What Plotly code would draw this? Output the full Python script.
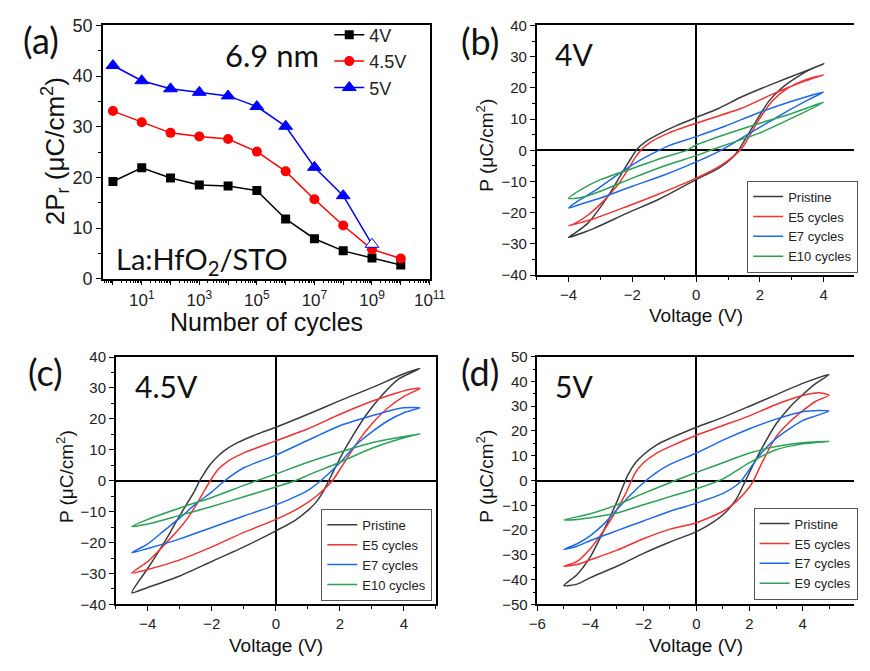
import plotly.graph_objects as go

# ---------------- Panel (a) data ----------------
cycles = [1, 10, 100, 1000, 10000, 100000, 1000000, 10000000, 100000000, 1000000000, 10000000000]
pr_4v = [19.2, 21.9, 19.9, 18.5, 18.3, 17.4, 11.8, 7.9, 5.5, 4.1, 2.7]
pr_45v = [33.1, 30.9, 28.8, 28.1, 27.6, 25.1, 21.2, 15.7, 10.5, 5.8, 4.0]
pr_5v = [42.1, 39.1, 37.5, 36.8, 36.1, 34.0, 30.1, 22.0, 16.4, 6.8]
pr_5v_open = [False] * 9 + [True]
a_xtick_exp = list(range(0, 12))

# ---------------- Panel (b) 4V loops (upper branch then lower branch) ----------------
b_pristine_v = [4, 3.4, 2.4, 1.4, 0.7, 0, -0.6, -1.1, -1.55, -1.85, -2.05, -2.3, -2.6, -3.0, -3.4, -3.8, -4,
                -3.2, -2.2, -1.15, 0, 0.7, 1.1, 1.35, 1.6, 1.9, 2.3, 2.7, 3.2, 3.6, 4]
b_pristine_p = [27.7, 25.3, 21.3, 17.0, 13.4, 10.5, 8.0, 5.6, 3.0, 0.4, -2.7, -6.8, -12.0, -18.2, -23.4, -26.5, -27.9,
                -25.0, -20.3, -15.6, -9.4, -5.8, -2.7, 0.4, 4.6, 9.7, 16.0, 20.1, 23.7, 26.0, 27.7]
b_e5_v = [4, 3.4, 2.4, 1.4, 0, -0.85, -1.45, -1.7, -1.9, -2.15, -2.45, -2.9, -3.4, -3.8, -4,
          -3.2, -2.15, -1.15, 0, 0.7, 1.2, 1.45, 1.7, 2.0, 2.4, 2.9, 3.4, 4]
b_e5_p = [24.2, 22.2, 18.0, 13.4, 8.7, 5.6, 2.5, 0.4, -2.2, -6.3, -11.0, -16.2, -20.8, -23.4, -24.2,
          -21.9, -17.9, -13.9, -8.9, -5.3, -1.7, 0.9, 5.1, 10.3, 16.0, 20.1, 22.5, 24.2]
b_e7_v = [4, 2.9, 1.9, 0.9, 0, -0.85, -1.25, -1.85, -2.55, -3.2, -3.7, -4,
          -3.6, -3.0, -2.0, -1.0, 0, 0.7, 1.2, 1.7, 2.3, 2.9, 3.5, 4]
b_e7_p = [18.7, 15.4, 11.8, 7.7, 4.4, 1.5, -0.4, -3.7, -8.4, -13.1, -16.2, -18.5,
          -17.2, -15.3, -11.5, -7.9, -3.7, -0.4, 2.5, 5.6, 9.2, 12.8, 16.1, 18.7]
b_e10_v = [4, 3, 2, 1, 0, -0.3, -1, -2, -3, -3.6, -4,
           -3.6, -3, -2, -1, 0, 0.45, 1, 2, 3, 4]
b_e10_p = [15.4, 11.8, 8.7, 5.4, 1.7, 0.0, -2.2, -5.8, -9.4, -12.5, -15.4,
           -15.1, -13.1, -8.9, -5.0, -1.7, 0.0, 2.0, 5.6, 10.3, 15.4]

# ---------------- Panel (c) 4.5V loops ----------------
c_pristine_v = [4.5, 4, 3, 2, 1, 0, -0.6, -1.2, -1.6, -1.9, -2.1, -2.25, -2.38, -2.55, -2.8, -3.1, -3.4, -3.7, -4.0, -4.25, -4.5,
                -4, -3, -2, -1, 0, 0.6, 1.0, 1.25, 1.45, 1.65, 1.85, 2.1, 2.4, 2.8, 3.3, 3.85, 4.5]
c_pristine_p = [36.3, 34.6, 30.1, 25.9, 21.5, 17.3, 15.0, 12.3, 9.8, 7.0, 4.6, 2.2, 0.0, -3.5, -7.8, -13.0, -18.5, -23.5, -28.3, -32.0, -36.2,
                -34.5, -30.8, -26.1, -21.4, -16.2, -12.8, -9.6, -7.0, -4.0, 0.0, 4.2, 9.2, 14.5, 21.0, 27.5, 33.0, 36.3]
c_e5_v = [4.5, 4.2, 3.5, 3, 2, 1, 0, -1, -1.5, -1.8, -2.05, -2.25, -2.5, -2.75, -3, -3.5, -4, -4.5,
          -4, -3, -2, -1, 0, 0.6, 1.0, 1.3, 1.55, 1.8, 2.05, 2.3, 2.6, 3, 3.5, 4, 4.5]
c_e5_p = [29.9, 29.6, 27.5, 25.7, 21.5, 16.8, 12.9, 9.0, 6.3, 3.7, 0.0, -3.5, -8.0, -12.0, -15.3, -20.9, -26.1, -29.8,
          -28.7, -25.6, -21.4, -16.7, -12.5, -9.5, -7.0, -4.7, -2.3, 0.5, 4.5, 8.5, 13.2, 18.4, 23.6, 27.3, 29.9]
c_e7_v = [4.5, 4, 3.5, 3, 2, 1, 0, -1, -1.6, -2, -2.5, -3, -3.5, -4, -4.5,
          -4, -3, -2, -1, 0, 1, 1.4, 2, 2.5, 3, 3.5, 4, 4.5]
c_e7_p = [23.6, 23.6, 22.5, 21.0, 17.8, 13.1, 8.3, 4.2, 0.0, -3.6, -7.5, -12.0, -16.2, -20.4, -23.3,
          -21.9, -18.8, -15.1, -11.4, -7.8, -3.1, 0.0, 5.8, 11.6, 15.8, 19.4, 22.0, 23.6]
c_e10_v = [4.5, 3, 2, 1, 0, -0.6, -1, -2, -3, -4, -4.5,
           -4, -3, -2, -1, 0, 0.6, 1, 2, 3, 4, 4.5]
c_e10_p = [15.2, 12.3, 9.3, 6.0, 2.2, 0.0, -1.5, -5.4, -8.8, -12.5, -14.8,
           -14.0, -11.2, -8.3, -5.2, -2.0, 0.0, 1.8, 6.0, 10.5, 13.9, 15.2]

# ---------------- Panel (d) 5V loops ----------------
d_pristine_v = [5, 4, 3, 2, 1, 0, -1, -1.5, -2, -2.3, -2.6, -3, -3.5, -4, -4.5, -5,
                -4.5, -4, -3, -2, -1, 0, 0.6, 1.1, 1.5, 1.85, 2.1, 2.5, 3, 3.5, 4, 4.5, 5]
d_pristine_p = [42.8, 39.2, 34.6, 30.0, 25.5, 21.5, 17.0, 14.4, 10.4, 7.2, 2.0, -8.5, -20.2, -30.7, -37.9, -42.4,
                -41.8, -39.2, -34.6, -29.4, -24.8, -20.6, -17.0, -12.8, -7.5, 0.0, 5.5, 13.7, 22.8, 29.4, 34.6, 39.2, 42.8]
d_e5_v = [5, 4.6, 4, 3, 2, 1, 0, -1, -1.5, -2, -2.3, -2.45, -2.7, -3, -3.5, -4, -4.5, -5,
          -4.5, -4, -3, -2, -1, 0, 1, 1.5, 2, 2.15, 2.5, 3, 3.5, 4, 4.5, 5]
d_e5_p = [34.5, 35.4, 34.3, 30.7, 26.1, 22.2, 18.3, 13.7, 11.1, 7.2, 3.3, 0.0, -5.9, -11.7, -20.2, -27.4, -32.6, -34.6,
          -33.9, -32.0, -28.1, -23.5, -19.6, -17.0, -12.4, -8.5, -2.6, 0.0, 7.8, 17.6, 23.5, 28.1, 32.0, 34.5]
d_e7_v = [5, 4.6, 4, 3, 2, 1, 0, -1, -1.5, -1.9, -2.5, -3, -3.5, -4, -4.5, -5,
          -4.5, -4, -3, -2, -1, 0, 1, 1.5, 1.7, 2, 2.5, 3, 3.5, 4, 4.5, 5]
d_e7_p = [28.1, 28.3, 27.8, 24.8, 20.9, 16.3, 11.1, 6.5, 3.3, 0.0, -5.9, -11.7, -17.6, -22.2, -25.5, -27.8,
          -26.5, -24.2, -20.2, -16.3, -12.4, -9.1, -5.2, -2.0, 0.0, 4.6, 11.7, 17.0, 20.9, 24.2, 26.1, 28.1]
d_e9_v = [5, 4, 3, 2, 1, 0, -0.8, -2, -3, -4, -5,
          -4.5, -4, -3, -2, -1, 0, 1, 1.5, 2, 3, 4, 5]
d_e9_p = [15.8, 15.3, 13.7, 11.1, 7.2, 3.3, 0.0, -5.2, -9.8, -13.4, -15.9,
          -15.7, -15.0, -13.1, -9.8, -6.5, -3.3, 0.7, 3.9, 7.2, 12.4, 14.8, 15.8]

loop_names_bc = ["Pristine", "E5 cycles", "E7 cycles", "E10 cycles"]
loop_names_d = ["Pristine", "E5 cycles", "E7 cycles", "E9 cycles"]
loop_colors = ["#3c3c3c", "#f03232", "#1e6ae6", "#2ca055"]

W, H = 870, 671
TICKFONT = "Liberation Sans, Arial, sans-serif"
LABELFONT = "Lato, Carlito, sans-serif"

fig = go.Figure()

# ---- panel (a) traces ----
fig.add_trace(go.Scatter(x=cycles, y=pr_4v, name="4V", mode="lines+markers",
                         line=dict(color="black", width=1.5),
                         marker=dict(symbol="square", size=9, color="black"),
                         xaxis="x", yaxis="y", legend="legend"))
fig.add_trace(go.Scatter(x=cycles, y=pr_45v, name="4.5V", mode="lines+markers",
                         line=dict(color="#ff0000", width=1.5),
                         marker=dict(symbol="circle", size=10, color="#ff0000"),
                         xaxis="x", yaxis="y", legend="legend"))
fig.add_trace(go.Scatter(x=cycles[:len(pr_5v)], y=pr_5v, name="5V", mode="lines+markers",
                         line=dict(color="#0000ff", width=1.5),
                         marker=dict(symbol="triangle-up", size=12,
                                     color=["white" if o else "#0000ff" for o in pr_5v_open],
                                     line=dict(color="#0000ff", width=1)),
                         xaxis="x", yaxis="y", legend="legend"))

# ---- hysteresis panels ----
panels = [
    ("x2", "y2", "legend2", loop_names_bc,
     [(b_pristine_v, b_pristine_p), (b_e5_v, b_e5_p), (b_e7_v, b_e7_p), (b_e10_v, b_e10_p)]),
    ("x3", "y3", "legend3", loop_names_bc,
     [(c_pristine_v, c_pristine_p), (c_e5_v, c_e5_p), (c_e7_v, c_e7_p), (c_e10_v, c_e10_p)]),
    ("x4", "y4", "legend4", loop_names_d,
     [(d_pristine_v, d_pristine_p), (d_e5_v, d_e5_p), (d_e7_v, d_e7_p), (d_e9_v, d_e9_p)]),
]
for xa, ya, lg, names, loops in panels:
    for name, color, (v, p) in zip(names, loop_colors, loops):
        fig.add_trace(go.Scatter(x=v, y=p, name=name, mode="lines",
                                 line=dict(color=color, width=1.5, shape="spline", smoothing=0.7),
                                 xaxis=xa, yaxis=ya, legend=lg))


def ax(domain, **kw):
    d = dict(domain=domain, showgrid=False, showline=True, linecolor="black", linewidth=1.5,
             mirror=True, ticks="outside", ticklen=5, tickwidth=1.2, tickcolor="black",
             tickfont=dict(family=TICKFONT, size=15, color="#222"), zeroline=False)
    d.update(kw)
    return d


minor_log = [m * 10 ** k for k in range(-1, 11) for m in range(2, 10)]
a_ticktext = [("10<sup>%d</sup>" % k) if k % 2 == 1 else "" for k in a_xtick_exp]
minor_lin = lambda step: dict(dtick=step, ticks="outside", ticklen=3, tickwidth=1, tickcolor="black")
zl = dict(zeroline=True, zerolinecolor="black", zerolinewidth=1.5)

fig.update_layout(
    width=W, height=H, margin=dict(l=0, r=0, t=0, b=0),
    paper_bgcolor="white", plot_bgcolor="white",
    xaxis=ax([0.1111, 0.4977], type="log", range=[-0.35, 11.0], anchor="y",
             tickmode="array", tickvals=[10 ** k for k in a_xtick_exp], ticktext=a_ticktext,
             tickfont=dict(family=TICKFONT, size=17, color="#222"),
             minor=dict(tickmode="array", tickvals=minor_log, ticks="outside", ticklen=3,
                        tickwidth=1, tickcolor="black")),
    yaxis=ax([0.5872, 0.9762], range=[0, 50], dtick=10, anchor="x",
             tickfont=dict(family=TICKFONT, size=18, color="#222"), minor=minor_lin(5)),
    xaxis2=ax([0.6245, 1.0], range=[-5, 4.95], dtick=2, anchor="y2", minor=minor_lin(1), **zl),
    yaxis2=ax([0.5927, 0.9762], range=[-40, 40], dtick=10, anchor="x2", mirror=False,
              minor=minor_lin(5), **zl),
    xaxis3=ax([0.1264, 0.5053], range=[-5, 5], dtick=2, anchor="y3", minor=minor_lin(1), **zl),
    yaxis3=ax([0.0869, 0.4669], range=[-40, 40], dtick=10, anchor="x3", minor=minor_lin(5), **zl),
    xaxis4=ax([0.6253, 1.0], range=[-6, 5.94], dtick=2, anchor="y4", minor=minor_lin(1), **zl),
    yaxis4=ax([0.0869, 0.4675], range=[-50, 50], dtick=10, anchor="x4", mirror=False,
              minor=minor_lin(5), **zl),
    legend=dict(x=0.379, y=0.99, xanchor="left", yanchor="top", bgcolor="rgba(0,0,0,0)",
                borderwidth=0, font=dict(family=TICKFONT, size=18, color="#222"), tracegroupgap=0),
    legend2=dict(x=0.8736, y=0.5966, xanchor="left", yanchor="bottom", bgcolor="white",
                 bordercolor="#555", borderwidth=1, itemwidth=30,
                 font=dict(family=TICKFONT, size=13, color="#222"), tracegroupgap=0),
    legend3=dict(x=0.501, y=0.0924, xanchor="right", yanchor="bottom", bgcolor="white",
                 bordercolor="#555", borderwidth=1, itemwidth=30,
                 font=dict(family=TICKFONT, size=13, color="#222"), tracegroupgap=0),
    legend4=dict(x=0.8812, y=0.0943, xanchor="left", yanchor="bottom", bgcolor="white",
                 bordercolor="#555", borderwidth=1, itemwidth=30,
                 font=dict(family=TICKFONT, size=13, color="#222"), tracegroupgap=0),
    showlegend=True,
)

annos = [
    # panel labels
    dict(text="(a)", x=0.0374, y=0.954, font=dict(family=LABELFONT, size=36)),
    dict(text="(b)", x=0.5575, y=0.952, font=dict(family=LABELFONT, size=36)),
    dict(text="(c)", x=0.0437, y=0.444, font=dict(family=LABELFONT, size=36)),
    dict(text="(d)", x=0.5575, y=0.444, font=dict(family=LABELFONT, size=36)),
    # in-plot labels
    dict(text="6.9 nm", x=0.3115, y=0.9314, font=dict(family=LABELFONT, size=31)),
    dict(text="La:HfO<sub>2</sub>/STO", x=0.1241, y=0.6155, xanchor="left", font=dict(family=LABELFONT, size=29)),
    dict(text="4V", x=0.6437, y=0.933, xanchor="left", font=dict(family=LABELFONT, size=30)),
    dict(text="4.5V", x=0.1471, y=0.4218, xanchor="left", font=dict(family=LABELFONT, size=30)),
    dict(text="5V", x=0.6437, y=0.4218, xanchor="left", font=dict(family=LABELFONT, size=30)),
    # axis titles
    dict(text="Number of cycles", x=0.3046, y=0.521, font=dict(family=TICKFONT, size=25)),
    dict(text="2P<sub>r</sub> (μC/cm<sup>2</sup>)", x=0.054, y=0.7824, textangle=-90,
         font=dict(family=TICKFONT, size=26)),
    dict(text="Voltage (V)", x=0.8126, y=0.5306, font=dict(family=TICKFONT, size=19)),
    dict(text="P (μC/cm<sup>2</sup>)", x=0.5632, y=0.793, textangle=-90, font=dict(family=TICKFONT, size=19)),
    dict(text="Voltage (V)", x=0.316, y=0.0238, font=dict(family=TICKFONT, size=19)),
    dict(text="P (μC/cm<sup>2</sup>)", x=0.0655, y=0.283, textangle=-90, font=dict(family=TICKFONT, size=19)),
    dict(text="Voltage (V)", x=0.8132, y=0.0238, font=dict(family=TICKFONT, size=19)),
    dict(text="P (μC/cm<sup>2</sup>)", x=0.5632, y=0.2846, textangle=-90, font=dict(family=TICKFONT, size=19)),
]
for a in annos:
    a.setdefault("xanchor", "center")
    a["font"].setdefault("color", "#111")
    fig.add_annotation(xref="paper", yref="paper", yanchor="middle", showarrow=False, **a)

fig.write_html("out.html", config={"displayModeBar": False},
               post_script="document.body.style.margin='0';")
